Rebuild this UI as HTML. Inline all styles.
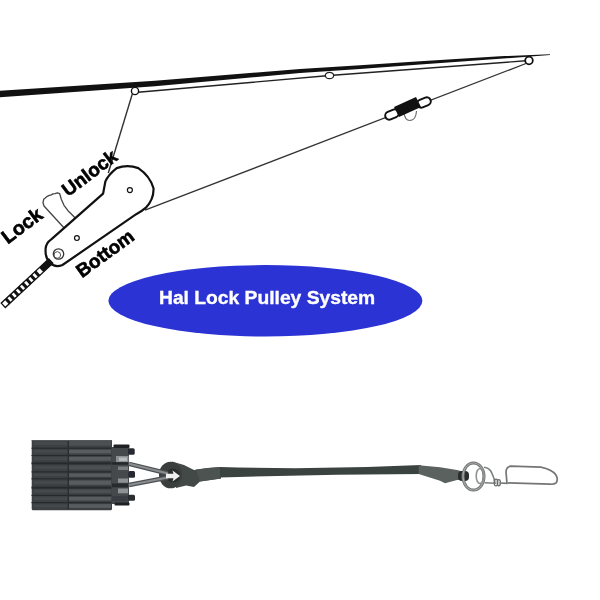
<!DOCTYPE html>
<html><head><meta charset="utf-8">
<style>
html,body{margin:0;padding:0;background:#fff;}
body{width:600px;height:600px;overflow:hidden;}
svg{display:block;will-change:transform;filter:blur(0.35px);}
text{font-family:"Liberation Sans",sans-serif;font-weight:bold;}
</style></head>
<body>
<svg width="600" height="600" viewBox="0 0 600 600">
<rect width="600" height="600" fill="#fff"/>
<!-- rod -->
<path d="M0,90.7 L155,80.7 L300,69 L360,65.3 L420,61.2 L500,56.2 L550,54.2 L550,54.9 L500,58.8 L420,64.6 L360,69 L300,73 L155,86.3 L0,97.3 Z" fill="#111"/>
<!-- thin line along rod -->
<polyline points="138,92.3 329.5,75.5 529,60.5" fill="none" stroke="#222" stroke-width="1.4"/>
<!-- line ring to pulley -->
<line x1="132.3" y1="94" x2="108.3" y2="173" stroke="#333" stroke-width="1.4"/>
<!-- diagonal line to pulley -->
<line x1="526" y1="63.5" x2="145" y2="210.2" stroke="#333" stroke-width="1.3"/>
<!-- rings -->
<circle cx="135" cy="91" r="3.6" fill="#fff" stroke="#111" stroke-width="1.4"/>
<ellipse cx="329.5" cy="75.5" rx="4.2" ry="3.2" fill="#fff" stroke="#222" stroke-width="1.3"/>
<circle cx="529" cy="60.5" r="3.8" fill="#fff" stroke="#111" stroke-width="1.8"/>
<!-- spring -->
<g>
<path d="M404,112 Q404.5,120.5 410,120.5 Q416,120 416.5,111" fill="#fff" stroke="#666" stroke-width="1.1"/>
<rect x="385" y="110.5" width="14" height="8" rx="4" fill="#fff" stroke="#111" stroke-width="2" transform="rotate(-22 392 114.5)"/>
<rect x="417" y="98.5" width="14" height="8" rx="4" fill="#fff" stroke="#111" stroke-width="2" transform="rotate(-22 424 102.5)"/>
<polygon points="394,107 416,97 421,107 399,117" fill="#111"/>
</g>
<!-- lever -->
<path d="M65.5,229.5 L44,206 L43,202.7 L43.7,199.3 L45.3,198 L47.3,196.3 L49.3,195.3 L51.3,194.9 L53,193.9 L55,193.6 L57.3,192.9 L59.7,193.7 L61.3,199.3 L64,205.3 L68,210.7 L73.3,216 L77.5,220.5" fill="none" stroke="#444" stroke-width="1.3" stroke-linejoin="round"/>
<!-- pulley body -->
<path d="M51.25,239.4 L103.1,193.6 L105.3,181.7 Q108,175 116.7,168.1 Q127.5,164 138.3,168.1 Q150,176 153.5,188.2 Q154,199 145.9,207.7 Q141,212 136.2,214.2 L62.5,265 Q55,268 50,263 Q45,258 45.6,248.75 Q46,243 51.25,239.4 Z" fill="#fff" stroke="#111" stroke-width="2.2"/>
<circle cx="129.9" cy="190.1" r="2.5" fill="#fff" stroke="#111" stroke-width="1.2"/>
<circle cx="76.9" cy="238.1" r="2.4" fill="#fff" stroke="#111" stroke-width="1.2"/>
<circle cx="58.5" cy="254" r="5.2" fill="#fff" stroke="#333" stroke-width="1.3"/>
<circle cx="57.3" cy="255" r="3.3" fill="none" stroke="#555" stroke-width="1"/>
<!-- striped cable -->
<g transform="translate(50.8,261) rotate(137)">
<rect x="0" y="-3" width="65" height="6" fill="#fff" stroke="#111" stroke-width="1.3"/>
<rect x="0" y="-3" width="13" height="6" fill="#111"/>
<rect x="17.2" y="-3" width="3.0" height="6" fill="#111"/><rect x="22.9" y="-3" width="3.0" height="6" fill="#111"/><rect x="28.6" y="-3" width="3.0" height="6" fill="#111"/><rect x="34.3" y="-3" width="3.0" height="6" fill="#111"/><rect x="40.0" y="-3" width="3.0" height="6" fill="#111"/><rect x="45.7" y="-3" width="3.0" height="6" fill="#111"/><rect x="51.4" y="-3" width="3.0" height="6" fill="#111"/><rect x="57.1" y="-3" width="3.0" height="6" fill="#111"/>
</g>
<!-- labels -->
<text x="0" y="0" font-size="19" fill="#000" stroke="#000" stroke-width="0.6" transform="translate(68,197.2) rotate(-37)">Unlock</text>
<text x="0" y="0" font-size="19.5" fill="#000" stroke="#000" stroke-width="0.6" transform="translate(7.8,244.5) rotate(-37)">Lock</text>
<text x="0" y="0" font-size="19" fill="#000" stroke="#000" stroke-width="0.6" transform="translate(82,278.2) rotate(-36)">Bottom</text>
<!-- ellipse -->
<ellipse cx="265.4" cy="300.8" rx="157" ry="35.7" fill="#2c33d4"/>
<text x="159" y="304" font-size="19.25" fill="#fff" stroke="#fff" stroke-width="0.35">Hal Lock Pulley System</text>
<!-- product photo -->
<g>
<!-- block -->
<rect x="31.7" y="440" width="80.3" height="70.3" rx="1.5" fill="#3d4043"/>
<rect x="34" y="441.5" width="34" height="3.4" fill="#46494c"/>
<rect x="69" y="441.1" width="42" height="4.6" fill="#4d5053"/>
<rect x="34" y="450.0" width="34" height="2.8" fill="#46494c"/>
<rect x="69" y="449.7" width="42" height="3.7" fill="#595c5f"/>
<rect x="34" y="457.3" width="34" height="2.8" fill="#46494c"/>
<rect x="69" y="456.9" width="42" height="3.8" fill="#595c5f"/>
<rect x="34" y="465.7" width="34" height="3.1" fill="#46494c"/>
<rect x="69" y="465.4" width="42" height="4.2" fill="#4d5053"/>
<rect x="34" y="473.6" width="34" height="2.6" fill="#46494c"/>
<rect x="69" y="473.4" width="42" height="3.4" fill="#595c5f"/>
<rect x="34" y="480.8" width="34" height="3.2" fill="#46494c"/>
<rect x="69" y="480.5" width="42" height="4.3" fill="#595c5f"/>
<rect x="34" y="489.8" width="34" height="2.8" fill="#46494c"/>
<rect x="69" y="489.5" width="42" height="3.7" fill="#4d5053"/>
<rect x="34" y="497.2" width="34" height="2.7" fill="#46494c"/>
<rect x="69" y="496.9" width="42" height="3.6" fill="#595c5f"/>
<rect x="34" y="504.5" width="34" height="2.8" fill="#46494c"/>
<rect x="69" y="504.1" width="42" height="3.8" fill="#595c5f"/>
<rect x="31.5" y="447.6" width="80.5" height="1.2" fill="#272a2d"/>
<rect x="31.5" y="455.0" width="80.5" height="1.0" fill="#272a2d"/>
<rect x="31.5" y="462.3" width="80.5" height="2.0" fill="#272a2d"/>
<rect x="31.5" y="471.3" width="80.5" height="1.2" fill="#272a2d"/>
<rect x="31.5" y="478.2" width="80.5" height="1.2" fill="#272a2d"/>
<rect x="31.5" y="486.6" width="80.5" height="2.0" fill="#272a2d"/>
<rect x="31.5" y="494.8" width="80.5" height="1.2" fill="#272a2d"/>
<rect x="31.5" y="502.0" width="80.5" height="1.2" fill="#272a2d"/>
<rect x="67.6" y="440" width="1.4" height="69.5" fill="#2a2d30"/>
<rect x="31.5" y="440" width="80.5" height="1" fill="#55585b"/>
<!-- side plates -->
<rect x="111.5" y="447" width="17.5" height="57" fill="#46494c"/>
<rect x="113.5" y="444.5" width="16" height="3.5" rx="1" fill="#1f2225"/>
<rect x="114.5" y="502.5" width="15" height="3" rx="1" fill="#1f2225"/>
<rect x="116" y="456" width="12.5" height="6.3" fill="#8d9092"/>
<rect x="119" y="457.5" width="8" height="3.5" fill="#b8babb"/>
<rect x="112" y="462.2" width="16" height="2.5" fill="#24272a"/>
<rect x="118" y="466.5" width="10" height="3.5" fill="#7b7e80"/>
<rect x="118" y="478.5" width="10" height="4.3" fill="#8e9193"/>
<rect x="112" y="483.5" width="16" height="3.8" fill="#272a2d"/>
<rect x="118" y="488.5" width="10" height="4.8" fill="#8e9193"/>
<rect x="112" y="496" width="15" height="5" fill="#3a3d44"/>
<rect x="128" y="448.3" width="6.7" height="6.4" rx="1.5" fill="#262931"/>
<rect x="128.3" y="471" width="6.7" height="6.8" rx="1.5" fill="#262931"/>
<rect x="127.7" y="494.7" width="7.3" height="6" rx="1.5" fill="#2b2d30"/>
<!-- bridle wires -->
<!-- eye + splice -->
<path d="M172,461.5 L184,465 L194,470 L208,468 L221,467 L221,478.5 L200,481.5 L194,487 L186,485.5 L176,488 Z" fill="#434947"/>
<path d="M196,469.5 L208,468 L221,467 L221,478.5 L200,481.5 Z" fill="#4d5351"/>
<ellipse cx="170.5" cy="475" rx="11.5" ry="13.3" fill="#3a3f3d"/>
<ellipse cx="173" cy="475.5" rx="7" ry="7" fill="#2a2e2d"/>
<path d="M129,463.8 L168,473.5 M129,485 L168,477.5" stroke="#4e5153" stroke-width="4.4" fill="none"/>
<path d="M129,463.8 L168,473.5 M129,485 L168,477.5" stroke="#8a8d8f" stroke-width="2.2" fill="none"/>
<path d="M166,473.8 L173.5,473.8 L172.5,470.5 L180,476 L172.5,481.5 L173.5,478.2 L166,478.2 Z" fill="#f0f0f0"/>
<!-- cord -->
<path d="M220,467 Q320,470 421,465 L421,474 Q320,474.5 220,477.5 Z" fill="#3b4340"/>
<!-- wrap -->
<path d="M418.7,465.3 L440,467.3 L457,470 L468,472.7 L468,480 L457,480 L445,483.3 L440,480.7 L418.7,474 Z" fill="#5b615e"/>
<rect x="458" y="471" width="11" height="10" rx="4" fill="#2a2d2c"/>
<!-- ring -->
<ellipse cx="473.5" cy="476.5" rx="10.5" ry="13.5" fill="none" stroke="#6f7271" stroke-width="3"/>
<ellipse cx="473.5" cy="476.5" rx="10.5" ry="13.5" fill="none" stroke="#a3a6a5" stroke-width="1.2"/>
<ellipse cx="480" cy="476" rx="3.8" ry="7.5" fill="none" stroke="#8f9291" stroke-width="1.6"/>
<!-- swivel -->
<path d="M484,467.3 Q490,468 492,473.5 Q494,478 494.5,480.5 L495,483.2 L484.5,482.8" fill="none" stroke="#7a7d7c" stroke-width="1.6"/>
<ellipse cx="496" cy="482.5" rx="1.8" ry="3.4" fill="none" stroke="#6a6d6c" stroke-width="1.3"/>
<ellipse cx="498.8" cy="482.7" rx="1.6" ry="3.1" fill="none" stroke="#6a6d6c" stroke-width="1.3"/>
<!-- snap -->
<path d="M499.5,483 L507,483.3 L506,472 Q506.3,466.5 511,466.2 L540.8,467.2 Q552,469.5 556,475 Q558.5,480 556,483 Q554,484.5 550,484.2 L508,482.8" fill="none" stroke="#737675" stroke-width="1.7"/>
</g>
</svg>
</body></html>
